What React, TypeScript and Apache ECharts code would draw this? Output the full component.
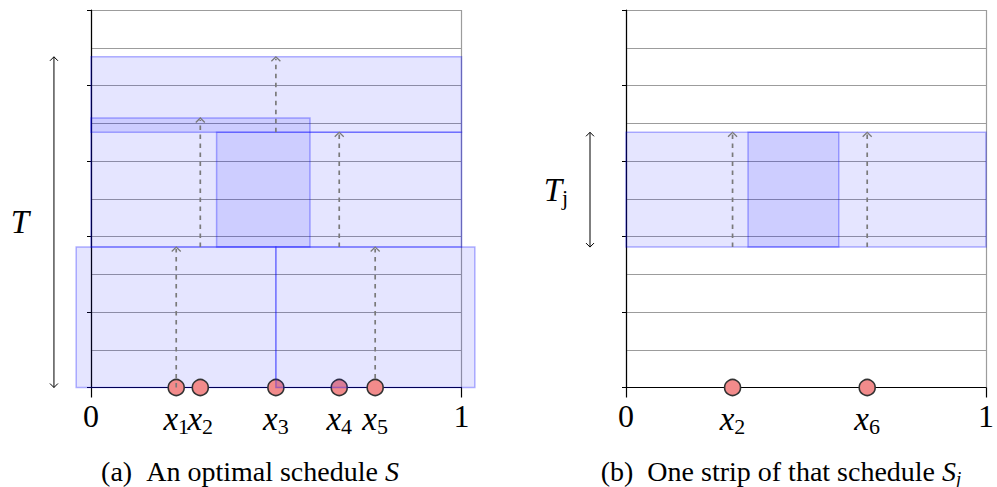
import React, { useEffect, useRef } from "react";
import * as echarts from "echarts";

// ---------- data ----------
// panel (a): an optimal schedule S
const pointsA = [0.23, 0.295, 0.499, 0.67, 0.767];
const pointNamesA = ["1", "2", "3", "4", "5"];
const rectsA = [
  [0, 1, 6.76, 8.76],
  [0, 0.591, 3.72, 7.14],
  [0.339, 1, 3.72, 6.76],
  [-0.04, 0.499, 0, 3.72],
];
const rectsAFront = [[0.499, 1.036, 0, 3.72]];
const arrowsA = [
  [0.23, 0, 3.72],
  [0.295, 3.72, 7.14],
  [0.499, 6.76, 8.76],
  [0.67, 3.72, 6.76],
  [0.767, 0, 3.72],
];
const spanA = [[-0.1, 0, 8.76]];
const spanLabelA = "{i|T}";

// panel (b): one strip S_j
const pointsB = [0.296, 0.67];
const pointNamesB = ["2", "6"];
const rectsB = [
  [0, 0.591, 3.72, 6.76],
  [0.339, 1, 3.72, 6.76],
];
const arrowsB = [
  [0.296, 3.72, 6.76],
  [0.67, 3.72, 6.76],
];
const spanB = [[-0.1, 3.72, 6.76]];
const spanLabelB = "{i|T}{s|j}";

const yMin = 0;
const yMax = 10;

// ---------- styles ----------
const FONT = "Liberation Serif";
const FILL = "rgba(0,0,255,0.1)";
const STROKE = "rgba(0,0,255,0.3)";
const DASH = "#7a7a7a";
const GRID = "#9c9c9c";
const DOT = "#f28b8b";

const mathRich = {
  d: { fontFamily: FONT, fontSize: 32, color: "#000" },
  x: { fontFamily: FONT, fontSize: 33, fontStyle: "italic", color: "#000" },
  s: { fontFamily: FONT, fontSize: 22, color: "#000", padding: [16, 0, 0, 0] },
  i: { fontFamily: FONT, fontSize: 33, fontStyle: "italic", color: "#000" },
};

function rectItem(params: any, api: any) {
  const p0 = api.coord([api.value(0), api.value(3)]);
  const p1 = api.coord([api.value(1), api.value(2)]);
  return {
    type: "rect",
    shape: { x: p0[0], y: p0[1], width: p1[0] - p0[0], height: p1[1] - p0[1] },
    style: { fill: FILL, stroke: STROKE, lineWidth: 1.5 },
  };
}

function arrowItem(params: any, api: any) {
  const a = api.coord([api.value(0), api.value(1)]);
  const b = api.coord([api.value(0), api.value(2)]);
  return {
    type: "group",
    children: [
      {
        type: "line",
        shape: { x1: a[0], y1: a[1], x2: b[0], y2: b[1] + 2 },
        style: { stroke: DASH, lineWidth: 1.7, lineDash: [4.5, 4.5] },
      },
      {
        type: "polyline",
        shape: { points: [[b[0] - 4.5, b[1] + 4.5], [b[0], b[1]], [b[0] + 4.5, b[1] + 4.5]] },
        style: { stroke: DASH, lineWidth: 1.3, fill: "none" },
      },
    ],
  };
}

function spanItem(label: string) {
  return (params: any, api: any) => {
    const a = api.coord([api.value(0), api.value(1)]);
    const b = api.coord([api.value(0), api.value(2)]);
    const h = 4;
    return {
      type: "group",
      children: [
        { type: "line", shape: { x1: a[0], y1: a[1], x2: b[0], y2: b[1] }, style: { stroke: "#000", lineWidth: 1 } },
        {
          type: "polyline",
          shape: { points: [[b[0] - h, b[1] + h], [b[0], b[1]], [b[0] + h, b[1] + h]] },
          style: { stroke: "#000", lineWidth: 1, fill: "none" },
        },
        {
          type: "polyline",
          shape: { points: [[a[0] - h, a[1] - h], [a[0], a[1]], [a[0] + h, a[1] - h]] },
          style: { stroke: "#000", lineWidth: 1, fill: "none" },
        },
        {
          type: "text",
          style: {
            text: label,
            rich: mathRich,
            x: a[0] - 34,
            y: (a[1] + b[1]) / 2,
            align: "center",
            verticalAlign: "middle",
          },
        },
      ],
    };
  };
}

function xLabels(points: number[], names: string[]) {
  return (value: number) => {
    if (value === 0) return "{d|0}";
    if (value === 1) return "{d|1}";
    const i = points.indexOf(value);
    return "{x|x}{s|" + names[i] + "}";
  };
}

function makeXAxis(gridIndex: number, points: number[], names: string[]) {
  return {
    type: "value",
    gridIndex,
    min: 0,
    max: 1,
    interval: 1,
    axisLine: { show: true, onZero: false, lineStyle: { color: "#000", width: 1.2 } },
    axisTick: { show: true, length: 10, lineStyle: { color: "#000", width: 1.2 } },
    splitLine: { show: true, lineStyle: { color: GRID, width: 1.2 } },
    axisLabel: {
      show: true,
      customValues: [0, ...points, 1],
      margin: 12,
      formatter: xLabels(points, names),
      rich: mathRich,
    },
  };
}

function makeYAxis(gridIndex: number) {
  return {
    type: "value",
    gridIndex,
    min: yMin,
    max: yMax,
    interval: 2,
    axisLine: { show: true, onZero: false, lineStyle: { color: "#000", width: 1.2 } },
    axisTick: { show: true, length: 4, lineStyle: { color: "#000", width: 1 } },
    axisLabel: { show: false },
    splitLine: { show: true, lineStyle: { color: GRID, width: 1.2 } },
    minorTick: { show: false, splitNumber: 2 },
    minorSplitLine: { show: true, lineStyle: { color: GRID, width: 1.2 } },
  };
}

function dots(data: number[], xi: number, z: number) {
  return {
    type: "scatter",
    xAxisIndex: xi,
    yAxisIndex: xi,
    clip: false,
    z,
    symbol: "circle",
    symbolSize: 16,
    itemStyle: { color: DOT, borderColor: "#333", borderWidth: 1.6, opacity: 1 },
    data: data.map((x) => [x, 0]),
  };
}

export default function App() {
  const ref = useRef<HTMLDivElement>(null);
  useEffect(() => {
    if (!ref.current) return;
    const chart = echarts.init(ref.current, null, { renderer: "svg" });
    const option: any = {
      animation: false,
      backgroundColor: "#fff",
      grid: [
        { left: 91, top: 10, width: 370.5, height: 377.5 },
        { left: 626, top: 10, width: 370.5, height: 377.5 },
      ],
      xAxis: [makeXAxis(0, pointsA, pointNamesA), makeXAxis(1, pointsB, pointNamesB)],
      yAxis: [makeYAxis(0), makeYAxis(1)],
      series: [
        {
          type: "custom", xAxisIndex: 0, yAxisIndex: 0, z: 2, clip: false,
          renderItem: rectItem, encode: { x: [0, 1], y: [2, 3] }, data: rectsA,
        },
        dots(pointsA.slice(0, 4), 0, 3),
        {
          type: "custom", xAxisIndex: 0, yAxisIndex: 0, z: 4, clip: false,
          renderItem: rectItem, encode: { x: [0, 1], y: [2, 3] }, data: rectsAFront,
        },
        dots(pointsA.slice(4), 0, 6),
        {
          type: "custom", xAxisIndex: 0, yAxisIndex: 0, z: 5, clip: false,
          renderItem: arrowItem, encode: { x: 0, y: [1, 2] }, data: arrowsA,
        },
        {
          type: "custom", xAxisIndex: 0, yAxisIndex: 0, z: 5, clip: false,
          renderItem: spanItem(spanLabelA), encode: { x: 0, y: [1, 2] }, data: spanA,
        },
        {
          type: "custom", xAxisIndex: 1, yAxisIndex: 1, z: 2, clip: false,
          renderItem: rectItem, encode: { x: [0, 1], y: [2, 3] }, data: rectsB,
        },
        dots(pointsB, 1, 6),
        {
          type: "custom", xAxisIndex: 1, yAxisIndex: 1, z: 5, clip: false,
          renderItem: arrowItem, encode: { x: 0, y: [1, 2] }, data: arrowsB,
        },
        {
          type: "custom", xAxisIndex: 1, yAxisIndex: 1, z: 5, clip: false,
          renderItem: spanItem(spanLabelB), encode: { x: 0, y: [1, 2] }, data: spanB,
        },
      ],
      graphic: [
        {
          type: "text",
          x: 250,
          y: 471,
          style: {
            text: "{n|(a)}{g| }{n|An optimal schedule }{i|S}",
            align: "center",
            verticalAlign: "middle",
            rich: {
              n: { fontFamily: FONT, fontSize: 28, color: "#000" },
              g: { fontFamily: FONT, fontSize: 28, width: 14 },
              i: { fontFamily: FONT, fontSize: 28, fontStyle: "italic", color: "#000" },
            },
          },
        },
        {
          type: "text",
          x: 781,
          y: 471,
          style: {
            text: "{n|(b)}{g| }{n|One strip of that schedule }{i|S}{s|j}",
            align: "center",
            verticalAlign: "middle",
            rich: {
              n: { fontFamily: FONT, fontSize: 28, color: "#000" },
              g: { fontFamily: FONT, fontSize: 28, width: 14 },
              i: { fontFamily: FONT, fontSize: 28, fontStyle: "italic", color: "#000" },
              s: { fontFamily: FONT, fontSize: 19, fontStyle: "italic", color: "#000", padding: [14, 0, 0, 0] },
            },
          },
        },
      ],
    };
    chart.setOption(option);
    return () => chart.dispose();
  }, []);
  return (
    <div
      ref={ref}
      style={{ position: "fixed", left: 0, top: 0, width: 997, height: 487, background: "#fff" }}
    />
  );
}
